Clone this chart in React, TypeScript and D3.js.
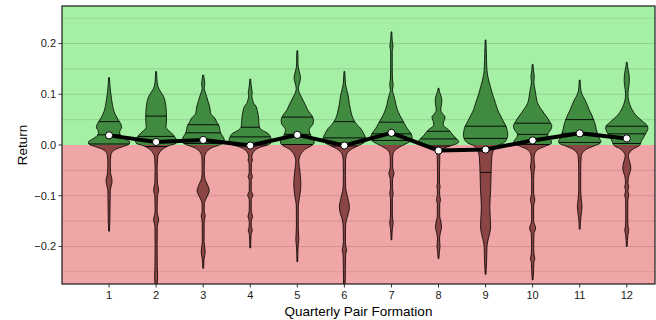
import React from 'react';
import * as d3 from 'd3';

const categories = ['1', '2', '3', '4', '5', '6', '7', '8', '9', '10', '11', '12'];
const means = [0.019, 0.006, 0.010, -0.001, 0.020, -0.001, 0.024, -0.011, -0.009, 0.009, 0.023, 0.013];
const q75 = [0.046, 0.057, 0.040, 0.035, 0.055, 0.046, 0.045, 0.027, 0.037, 0.043, 0.050, 0.037];
const q50 = [0.020, 0.017, 0.024, 0.016, 0.021, 0.014, 0.022, 0.012, 0.013, 0.021, 0.023, 0.022];
const q25 = [0.002, -0.003, 0.003, 0.000, 0.001, -0.002, 0.009, -0.002, -0.054, 0.001, 0.005, 0.003];

// [return value, density]
const violin1: [number, number][] = [[0.133,0.4],[0.12,0.8],[0.105,1.5],[0.09,2.5],[0.078,3.5],[0.066,5],[0.055,7.5],[0.047,10],[0.040,12],[0.034,12.5],[0.029,11],[0.023,10.5],[0.017,12.5],[0.011,17],[0.006,20.5],[0.002,20],[-0.003,14],[-0.008,7],[-0.013,3.5],[-0.02,1.8],[-0.035,1.2],[-0.055,1.5],[-0.065,2.6],[-0.072,3],[-0.08,2.2],[-0.09,1.2],[-0.12,1],[-0.15,0.8],[-0.17,0.4]];
const violin2: [number, number][] = [[0.145,0.4],[0.13,0.8],[0.118,1.5],[0.11,3],[0.102,5.5],[0.095,7.5],[0.085,9],[0.07,10],[0.057,10.3],[0.045,10.2],[0.036,9.8],[0.03,11.5],[0.024,15],[0.016,18.5],[0.008,20.5],[0.003,19.5],[-0.001,13],[-0.005,9],[-0.01,5.5],[-0.016,3],[-0.025,1.5],[-0.05,1],[-0.075,1.3],[-0.089,2.5],[-0.1,1.3],[-0.13,1],[-0.148,2.5],[-0.16,1.2],[-0.2,1],[-0.24,1.2],[-0.26,1.5],[-0.28,0.8]];
const violin3: [number, number][] = [[0.138,0.4],[0.128,1.2],[0.12,1.6],[0.112,1],[0.105,1.8],[0.095,3.5],[0.085,5],[0.075,6.5],[0.062,7.5],[0.053,11.5],[0.045,13.5],[0.039,15.5],[0.030,16.5],[0.023,17.5],[0.013,20.5],[0.008,21],[0.004,20],[0.0,16],[-0.005,9],[-0.01,5],[-0.016,2.5],[-0.025,1.3],[-0.05,1],[-0.065,1.5],[-0.075,3.5],[-0.09,6],[-0.105,3],[-0.115,1.2],[-0.13,1],[-0.14,2],[-0.15,1],[-0.19,0.9],[-0.21,2],[-0.225,0.9],[-0.243,0.4]];
const violin4: [number, number][] = [[0.13,0.4],[0.118,0.9],[0.108,1.6],[0.103,2],[0.097,1.5],[0.09,2.2],[0.082,3.5],[0.076,5.8],[0.068,7],[0.058,8],[0.048,8.5],[0.036,9],[0.029,12],[0.023,17.5],[0.016,20],[0.01,21],[0.004,20.5],[0.0,17],[-0.005,9],[-0.01,5],[-0.016,2.5],[-0.024,1.5],[-0.03,2.2],[-0.036,1.2],[-0.055,1],[-0.062,2.2],[-0.07,1],[-0.09,1],[-0.099,2.5],[-0.108,1],[-0.13,1],[-0.141,2.3],[-0.15,1],[-0.16,1],[-0.168,2],[-0.176,0.9],[-0.203,0.4]];
const violin5: [number, number][] = [[0.186,0.4],[0.17,0.7],[0.16,0.7],[0.148,1.5],[0.14,2.6],[0.131,3.2],[0.122,2.2],[0.112,1.1],[0.104,1.8],[0.095,4],[0.085,6.5],[0.075,9],[0.069,10.3],[0.062,13],[0.056,15],[0.049,16],[0.043,15.8],[0.036,13.5],[0.030,11.7],[0.023,12.5],[0.016,14],[0.007,16.7],[0.003,16.5],[-0.002,13.5],[-0.008,8],[-0.015,4.5],[-0.022,2.5],[-0.032,1.5],[-0.043,2],[-0.06,3],[-0.076,3.5],[-0.092,3],[-0.108,1.8],[-0.12,1],[-0.16,0.9],[-0.187,1.5],[-0.2,0.8],[-0.23,0.4]];
const violin6: [number, number][] = [[0.145,0.4],[0.13,0.8],[0.118,1.3],[0.108,2.5],[0.095,4],[0.08,5],[0.069,6.2],[0.058,7.5],[0.047,10],[0.04,12.5],[0.033,16],[0.025,18.5],[0.017,20.5],[0.01,21.5],[0.004,19],[-0.001,14],[-0.007,8],[-0.013,4],[-0.02,2],[-0.03,1.2],[-0.06,1],[-0.085,1.3],[-0.097,2.5],[-0.11,4],[-0.122,5],[-0.135,4],[-0.148,2],[-0.16,1.2],[-0.19,1],[-0.2,1.5],[-0.207,2.2],[-0.215,1.3],[-0.24,1],[-0.28,0.8]];
const violin7: [number, number][] = [[0.223,0.4],[0.205,0.8],[0.195,1.6],[0.185,0.8],[0.15,0.8],[0.13,1],[0.118,1.7],[0.108,1],[0.1,2],[0.089,3.5],[0.079,4.5],[0.069,6],[0.058,8.5],[0.049,11],[0.042,13],[0.036,14.5],[0.029,17],[0.022,19.5],[0.014,20.5],[0.008,19],[0.003,15],[-0.002,10],[-0.008,5],[-0.015,2],[-0.025,1.2],[-0.045,1.2],[-0.056,2.6],[-0.066,1.2],[-0.085,0.9],[-0.095,1.7],[-0.105,0.9],[-0.14,0.9],[-0.154,1.7],[-0.165,0.9],[-0.187,0.4]];
const violin8: [number, number][] = [[0.112,0.4],[0.105,1],[0.097,2.5],[0.087,3.3],[0.078,2.8],[0.069,2.2],[0.062,4],[0.055,6.5],[0.048,5.5],[0.041,4.7],[0.035,6.5],[0.030,10],[0.024,12.5],[0.018,15],[0.012,18],[0.007,20],[0.003,18.5],[-0.001,13],[-0.006,6],[-0.012,2.5],[-0.02,1.3],[-0.05,1],[-0.075,1],[-0.082,1.6],[-0.09,1],[-0.1,1.2],[-0.108,2],[-0.116,1.2],[-0.14,1.2],[-0.15,2.2],[-0.162,3],[-0.172,2],[-0.185,1],[-0.2,1.5],[-0.21,0.9],[-0.224,0.4]];
const violin9: [number, number][] = [[0.207,0.4],[0.18,0.8],[0.154,1.2],[0.14,1.8],[0.128,3],[0.115,4.8],[0.105,6.2],[0.095,7.7],[0.082,10],[0.069,12],[0.059,14.5],[0.049,17],[0.042,19],[0.036,20.5],[0.028,21.5],[0.021,22],[0.014,21.5],[0.008,20],[0.003,17],[-0.001,12],[-0.005,9.5],[-0.012,7.5],[-0.023,6.2],[-0.054,5.5],[-0.09,5],[-0.122,4.2],[-0.145,4.7],[-0.161,5],[-0.175,4],[-0.187,2.5],[-0.2,1.4],[-0.23,1],[-0.255,0.4]];
const violin10: [number, number][] = [[0.159,0.4],[0.148,0.8],[0.138,1.5],[0.132,1.6],[0.125,1.2],[0.115,1.8],[0.108,2.5],[0.095,3.5],[0.082,5],[0.072,8],[0.062,11.5],[0.054,14.5],[0.046,17],[0.038,19],[0.032,18.5],[0.026,16.5],[0.02,15],[0.014,16],[0.008,18.5],[0.003,18.5],[-0.002,13],[-0.008,6],[-0.015,2.5],[-0.025,1.4],[-0.035,1.6],[-0.043,2.2],[-0.05,1.5],[-0.07,1],[-0.095,1],[-0.108,2.2],[-0.12,1],[-0.15,1],[-0.164,3],[-0.175,1.3],[-0.2,1],[-0.215,1.3],[-0.224,2.2],[-0.232,1.2],[-0.25,0.9],[-0.266,0.4]];
const violin11: [number, number][] = [[0.128,0.4],[0.115,0.8],[0.105,1.5],[0.097,3],[0.089,5.3],[0.079,7.5],[0.069,9.5],[0.059,12],[0.049,14],[0.04,15.5],[0.03,16.5],[0.021,18],[0.013,19.5],[0.007,21],[0.003,20],[-0.002,14],[-0.008,7],[-0.015,3],[-0.023,1.5],[-0.05,1],[-0.09,1],[-0.105,1.5],[-0.122,2.3],[-0.137,1.5],[-0.15,0.8],[-0.166,0.4]];
const violin12: [number, number][] = [[0.163,0.4],[0.155,0.8],[0.148,1.5],[0.138,2.3],[0.128,2.6],[0.115,2],[0.102,1.2],[0.095,1.3],[0.089,1.7],[0.08,3],[0.069,5.5],[0.06,8.5],[0.053,12],[0.046,16],[0.039,20],[0.033,21],[0.027,20],[0.02,18],[0.014,16.5],[0.01,15],[0.004,14],[-0.002,12],[-0.007,7],[-0.012,4],[-0.016,2.5],[-0.021,1.5],[-0.028,2.2],[-0.038,3.5],[-0.046,4],[-0.055,3],[-0.065,1.5],[-0.075,1.2],[-0.082,2],[-0.09,1.2],[-0.099,2],[-0.108,1.1],[-0.15,1],[-0.16,1.3],[-0.168,2],[-0.176,1.2],[-0.2,0.4]];

const profiles = [violin1, violin2, violin3, violin4, violin5, violin6, violin7, violin8, violin9, violin10, violin11, violin12];

const yTicks = [-0.2, -0.1, 0, 0.1, 0.2];
const yTickLabels = ['\u22120.2', '\u22120.1', '0.0', '0.1', '0.2'];
const gridValues = [-0.25, -0.2, -0.15, -0.1, -0.05, 0.05, 0.1, 0.15, 0.2, 0.25];

export default function App() {
  const W = 656, H = 320;
  const left = 62, right = 655, top = 6, bottom = 284;
  const x = d3.scaleLinear().domain([0, 12.6]).range([left, right]);
  const y = d3.scaleLinear().domain([-0.274, 0.274]).range([bottom, top]);
  const band = x(1) - x(0);
  const w = d3.scaleLinear().domain([0, 21]).range([0, 0.45 * band]);
  const y0 = y(0);
  const font = "'Liberation Sans', Arial, Helvetica, sans-serif";

  const meanLine = d3.line<number>().x((_, i) => x(i + 1)).y(d => y(d))(means) || '';

  const violins = profiles.map((p, i) => {
    const cx = x(i + 1);
    const area = d3.area<[number, number]>()
      .y(d => y(d[0]))
      .x0(d => cx - w(d[1]))
      .x1(d => cx + w(d[1]))
      .curve(d3.curveMonotoneY);
    const dPath = area(p) || '';
    const widthAt = d3.scaleLinear().domain(p.map(d => d[0])).range(p.map(d => d[1])).clamp(true);
    const qs = [q25[i], q50[i], q75[i]].map(q => ({ y: y(q), hw: w(widthAt(q)) }));
    return { cx, dPath, qs };
  });

  return (
    <svg width={W} height={H} style={{ position: 'absolute', left: 0, top: 0, background: '#fff' }} fontFamily={font}>
      <defs>
        <clipPath id="panel"><rect x={left} y={top} width={right - left} height={bottom - top} /></clipPath>
        <clipPath id="above"><rect x={left} y={top} width={right - left} height={y0 - top} /></clipPath>
        <clipPath id="below"><rect x={left} y={y0} width={right - left} height={bottom - y0} /></clipPath>
      </defs>
      <rect x={left} y={top} width={right - left} height={y0 - top} fill="#a6f0a6" />
      <rect x={left} y={y0} width={right - left} height={bottom - y0} fill="#f0a6a6" />
      {gridValues.map(g => (
        <line key={g} x1={left} x2={right} y1={y(g)} y2={y(g)} stroke="#000" strokeOpacity={Math.abs(Math.round(g * 100)) % 10 === 0 ? 0.13 : 0.1} strokeWidth={1.1} />
      ))}
      <g clipPath="url(#panel)">
        {violins.map((v, i) => (
          <g key={i}>
            <path d={v.dPath} fill="#418b41" clipPath="url(#above)" />
            <path d={v.dPath} fill="#8b4545" clipPath="url(#below)" />
            <path d={v.dPath} fill="none" stroke="#000" strokeWidth={0.8} strokeLinejoin="round" />
            {v.qs.map((q, j) => (
              <line key={j} x1={v.cx - q.hw} x2={v.cx + q.hw} y1={q.y} y2={q.y} stroke="#000" strokeWidth={0.9} />
            ))}
          </g>
        ))}
        <path d={meanLine} fill="none" stroke="#000" strokeWidth={4} strokeLinejoin="round" />
        {means.map((m, i) => (
          <circle key={i} cx={x(i + 1)} cy={y(m)} r={3.6} fill="#fff" stroke="#000" strokeWidth={1} />
        ))}
      </g>
      <rect x={left} y={top} width={right - left} height={bottom - top} fill="none" stroke="#1a1a1a" strokeWidth={1.2} />
      {yTicks.map((t, i) => (
        <g key={t}>
          <line x1={left - 3.5} x2={left} y1={y(t)} y2={y(t)} stroke="#333" strokeWidth={1} />
          <text x={left - 6} y={y(t)} dy="0.35em" textAnchor="end" fontSize={11} fill="#1a1a1a">{yTickLabels[i]}</text>
        </g>
      ))}
      {categories.map((c, i) => (
        <g key={c}>
          <line x1={x(i + 1)} x2={x(i + 1)} y1={bottom} y2={bottom + 3.5} stroke="#333" strokeWidth={1} />
          <text x={x(i + 1)} y={bottom + 15} textAnchor="middle" fontSize={11} fill="#1a1a1a">{c}</text>
        </g>
      ))}
      <text x={(left + right) / 2} y={316} textAnchor="middle" fontSize={13.5} fill="#000">Quarterly Pair Formation</text>
      <text transform={`translate(27, ${(top + bottom) / 2}) rotate(-90)`} textAnchor="middle" fontSize={13.5} fill="#000">Return</text>
    </svg>
  );
}
